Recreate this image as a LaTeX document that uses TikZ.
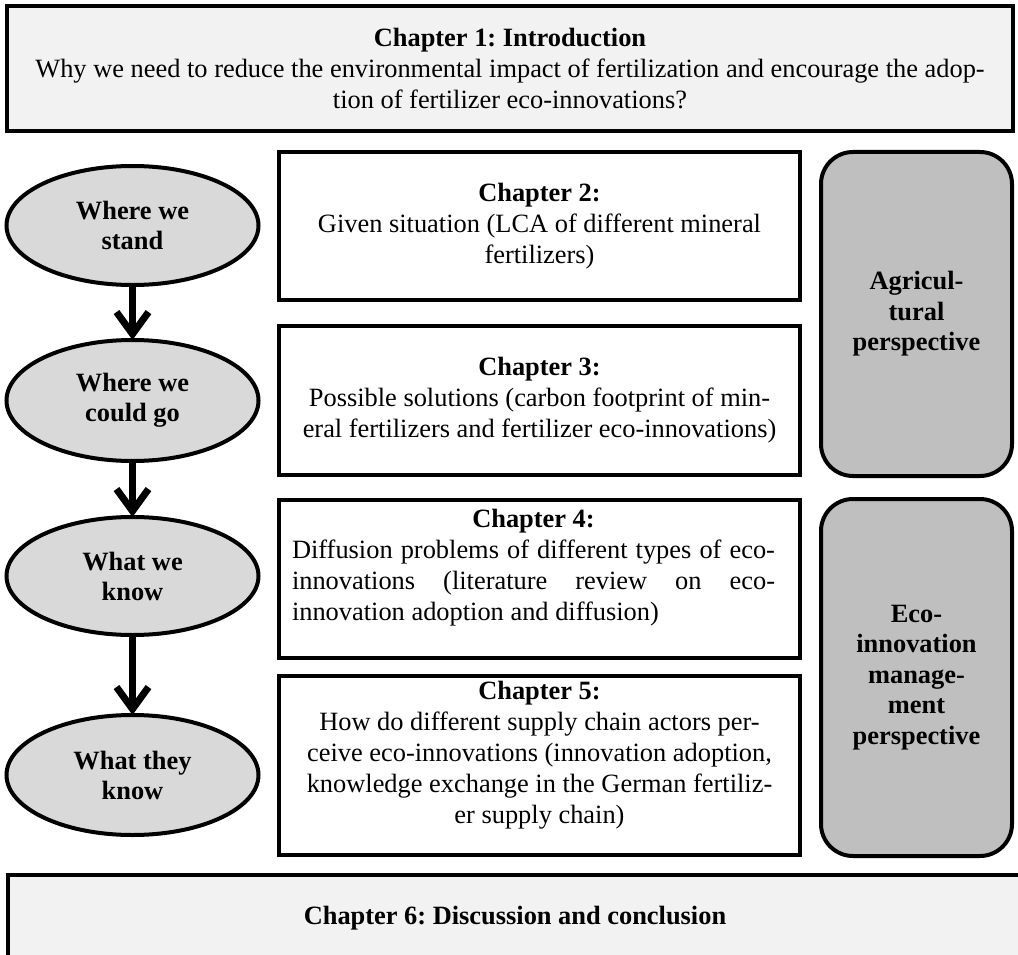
\documentclass[tikz,border=0pt]{standalone}
\usepackage{fontspec}
\setmainfont{Liberation Serif}
\usetikzlibrary{shapes.geometric,arrows.meta}
\definecolor{lightbox}{HTML}{F2F2F2}
\definecolor{ellfill}{HTML}{D9D9D9}
\definecolor{perfill}{HTML}{BFBFBF}
\frenchspacing
\begin{document}
\begin{tikzpicture}[x=1pt,y=-1pt,
  every node/.style={font=\fontsize{26.4}{31}\selectfont, inner sep=0pt, outer sep=0pt},
  bigbox/.style={draw, line width=4pt, fill=lightbox, align=center},
  stage/.style={ellipse, draw, line width=4pt, fill=ellfill, minimum width=252pt, align=center, font=\fontsize{26.4}{30}\selectfont\bfseries},
  chapbox/.style={draw, line width=4pt, fill=white, minimum width=521pt},
  chaptext/.style={align=center},
  persp/.style={draw, line width=4pt, fill=perfill, rounded corners=32pt, minimum width=191pt, align=center, font=\fontsize{26.4}{30.5}\selectfont\bfseries},
  flow/.style={line width=7pt, -{Straight Barb[length=22pt,width=32pt,line width=7pt]}}
]
\useasboundingbox (0,0) rectangle (1018,955);

% top box
\node[bigbox, minimum width=1006pt, minimum height=125pt] (intro) at (510,68.5)
  {\textbf{Chapter 1: Introduction}\\Why we need to reduce the environmental impact of fertilization and encourage the adop-\\tion of fertilizer eco-innovations?};

% stages
\node[stage, minimum height=119pt] (e1) at (132.5,225.5) {Where we\\stand};
\node[stage, minimum height=121pt] (e2) at (132.5,400.5) {Where we\\could go};
\node[stage, minimum height=118pt] (e3) at (132.5,576) {What we\\know};
\node[stage, minimum height=120pt] (e4) at (132.5,775) {What they\\know};

\draw[flow] (e1.south) -- (e2.north);
\draw[flow] (e2.south) -- (e3.north);
\draw[flow] (e3.south) -- (e4.north);

% chapter boxes
\node[chapbox, minimum height=148pt, chaptext] (c2) at (539.5,226)
  {\textbf{Chapter 2:}\\Given situation (LCA of different mineral\\fertilizers)};
\node[chapbox, minimum height=149pt, chaptext] (c3) at (539.5,400.5)
  {\textbf{Chapter 3:}\\Possible solutions (carbon footprint of min-\\eral fertilizers and fertilizer eco-innovations)};
\node[chapbox, minimum height=158pt] (c4) at (539.5,579) {};
\node[chaptext] (c4t) at (533.5,568)
  {\textbf{Chapter 4:}\\\makebox[483pt][s]{Diffusion problems of different types of eco-}\\\makebox[483pt][s]{innovations (literature review on eco-}\\\makebox[483pt][l]{innovation adoption and diffusion)}};
\node[chapbox, minimum height=179pt] (c5) at (539.5,765.5) {};
\node[chaptext] (c5t) at (539.5,755)
  {\textbf{Chapter 5:}\\How do different supply chain actors per-\\ceive eco-innovations (innovation adoption,\\knowledge exchange in the German fertiliz-\\er supply chain)};

% perspectives
\node[persp, minimum height=324pt] (agr) at (916.5,314) {Agricul-\\tural\\perspective};
\node[persp, minimum height=357pt] (eco) at (916.5,677.5) {Eco-\\innovation\\manage-\\ment\\perspective};

% bottom box
\node[bigbox, minimum width=1014pt, minimum height=86pt] (disc) at (515,918)
  {\textbf{Chapter 6: Discussion and conclusion}};
\end{tikzpicture}
\end{document}
